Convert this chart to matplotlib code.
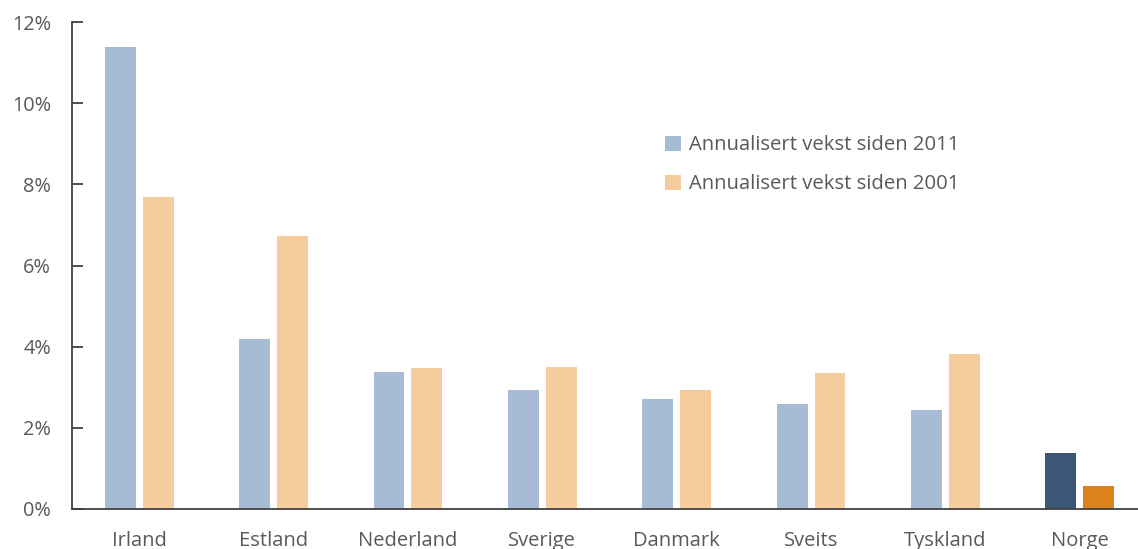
import numpy as np
import matplotlib
matplotlib.use("Agg")
import matplotlib.pyplot as plt
from matplotlib.ticker import FuncFormatter

countries = ["Irland", "Estland", "Nederland", "Sverige", "Danmark", "Sveits", "Tyskland", "Norge"]
since_2011 = [11.38, 4.19, 3.38, 2.93, 2.71, 2.59, 2.44, 1.38]
since_2001 = [7.69, 6.73, 3.47, 3.50, 2.93, 3.35, 3.82, 0.57]
labels = ["Annualisert vekst siden 2011", "Annualisert vekst siden 2001"]

blue, orange = "#A7BCD4", "#F5CC9C"
blue_hl, orange_hl = "#3C5675", "#DB821C"
text_col = "#595959"

plt.rcParams["font.family"] = ["Open Sans", "DejaVu Sans"]

fig = plt.figure(figsize=(11.38, 5.49), dpi=100)
ax = fig.add_axes([72 / 1138, 40 / 549, 1075 / 1138, 487 / 549])

x = np.arange(len(countries))
w = 0.23
off = 0.141
c1 = [blue] * (len(countries) - 1) + [blue_hl]
c2 = [orange] * (len(countries) - 1) + [orange_hl]
ax.bar(x - off, since_2011, w, color=c1, label=labels[0])
ax.bar(x + off, since_2001, w, color=c2, label=labels[1])

ax.set_xlim(-0.5, len(countries) - 0.5)
ax.set_ylim(0, 12)
ax.set_yticks(np.arange(0, 13, 2))
ax.yaxis.set_major_formatter(FuncFormatter(lambda v, p: f"{v:.0f}%"))
ax.set_xticks(x)
ax.set_xticklabels(countries)

for s in ["top", "right"]:
    ax.spines[s].set_visible(False)
for s in ["left", "bottom"]:
    ax.spines[s].set_color("#404040")
    ax.spines[s].set_linewidth(1.3)

ax.tick_params(axis="y", direction="in", length=8, width=1.3, color="#404040",
               labelsize=14.3, labelcolor=text_col, pad=15)
ax.tick_params(axis="x", length=0, labelsize=14.5, labelcolor=text_col, pad=16)

ax.legend(loc="upper left", bbox_to_anchor=(0.535, 0.805), frameon=False,
          fontsize=14.6, labelcolor=text_col, handlelength=0.75, handleheight=0.75,
          handletextpad=0.4, labelspacing=0.95)

fig.savefig("out.png", dpi=100)
